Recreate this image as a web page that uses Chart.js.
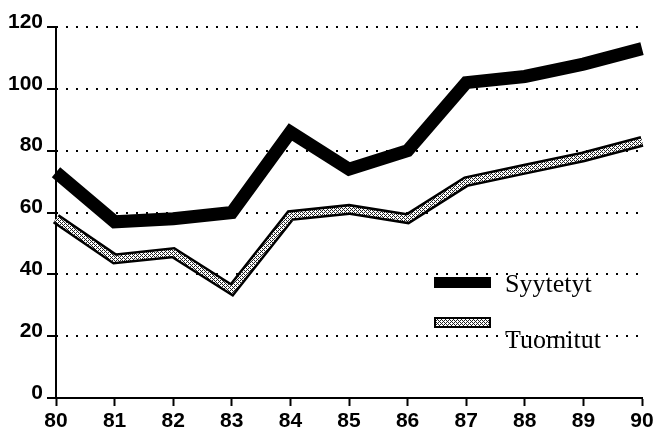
<!DOCTYPE html>
<html>
<head>
<meta charset="utf-8">
<script src="https://cdn.jsdelivr.net/npm/chart.js@4/dist/chart.umd.min.js"></script>
<style>
  html, body { margin: 0; padding: 0; background: #fff; }
  #wrap { width: 658px; height: 431px; }
</style>
</head>
<body>
<div id="wrap"><canvas id="chart" width="658" height="431"></canvas></div>
<script>
// Data
const years = ['80', '81', '82', '83', '84', '85', '86', '87', '88', '89', '90'];
const syytetyt = [73, 57, 58, 60, 86, 74, 80, 102, 104, 108, 113];
const tuomitut = [58, 45, 47, 35, 59, 61, 58, 70, 74, 78, 83];
const seriesNames = ['Syytetyt', 'Tuomitut'];
const yTicks = [0, 20, 40, 60, 80, 100, 120];

// stippled fill like the printed pattern
function makeStipple() {
    const c = document.createElement('canvas');
    c.width = 4;
    c.height = 4;
    const g = c.getContext('2d');
    g.fillStyle = '#fff';
    g.fillRect(0, 0, 4, 4);
    g.fillStyle = '#222';
    for (let x = 0; x < 4; x++) {
        for (let y = 0; y < 4; y++) {
            if ((x + y) % 2 === 0) g.fillRect(x, y, 1, 1);
        }
    }
    g.fillStyle = '#fff';
    g.fillRect(1, 1, 1, 1);
    g.fillRect(3, 3, 1, 1);
    return document.getElementById('chart').getContext('2d').createPattern(c, 'repeat');
}
const stipple = makeStipple();

// legend drawn inside the plot area
const innerLegend = {
    id: 'innerLegend',
    afterDraw(chart) {
        const ctx = chart.ctx;
        ctx.save();
        // Syytetyt swatch
        ctx.fillStyle = '#000';
        ctx.fillRect(434, 277, 57, 11);
        // Tuomitut swatch
        ctx.fillRect(434, 317, 57, 11);
        ctx.fillStyle = stipple;
        ctx.fillRect(436, 319, 53, 7);
        ctx.fillStyle = '#000';
        ctx.font = '26px "Liberation Serif", "Times New Roman", serif';
        ctx.textBaseline = 'alphabetic';
        ctx.textAlign = 'left';
        ctx.fillText(seriesNames[0], 505, 292);
        ctx.fillText(seriesNames[1], 505, 348);
        ctx.restore();
    }
};

new Chart(document.getElementById('chart'), {
    type: 'line',
    data: {
        labels: years,
        datasets: [
            {
                label: seriesNames[0],
                data: syytetyt,
                borderColor: '#000',
                borderWidth: 13,
                borderJoinStyle: 'miter',
                pointRadius: 0,
                tension: 0,
                fill: false,
                order: 0
            },
            {
                label: seriesNames[1] + ' outline',
                data: tuomitut,
                borderColor: '#000',
                borderWidth: 11,
                borderJoinStyle: 'miter',
                pointRadius: 0,
                tension: 0,
                fill: false,
                order: 2
            },
            {
                label: seriesNames[1],
                data: tuomitut,
                borderColor: stipple,
                borderWidth: 6,
                borderJoinStyle: 'miter',
                pointRadius: 0,
                tension: 0,
                fill: false,
                order: 1
            }
        ]
    },
    options: {
        responsive: false,
        animation: false,
        layout: { padding: { top: 27, right: 16, left: 0, bottom: 0 } },
        plugins: {
            legend: { display: false },
            tooltip: { enabled: false }
        },
        scales: {
            x: {
                type: 'category',
                offset: false,
                afterFit: function (scale) { scale.height = 33; },
                grid: {
                    drawOnChartArea: false,
                    drawTicks: true,
                    tickLength: 8,
                    tickColor: '#000',
                    tickWidth: 2
                },
                border: { display: true, color: '#000', width: 2 },
                ticks: {
                    color: '#000',
                    font: { family: '"Liberation Sans", Arial, sans-serif', size: 21, weight: 'bold' },
                    padding: 3,
                    maxRotation: 0,
                    autoSkip: false
                }
            },
            y: {
                min: 0,
                max: 120,
                afterFit: function (scale) { scale.width = 56; },
                afterBuildTicks: function (scale) {
                    scale.ticks = yTicks.map(v => ({ value: v }));
                },
                grid: {
                    color: '#000',
                    lineWidth: 2,
                    drawTicks: true,
                    tickLength: 9,
                    tickColor: '#000',
                    tickWidth: 2
                },
                border: { display: true, color: '#000', width: 2, dash: [2, 8], dashOffset: -9 },
                ticks: {
                    color: '#000',
                    font: { family: '"Liberation Sans", Arial, sans-serif', size: 21, weight: 'bold' },
                    padding: 4,
                    labelOffset: -5
                }
            }
        }
    },
    plugins: [innerLegend]
});
</script>
</body>
</html>
